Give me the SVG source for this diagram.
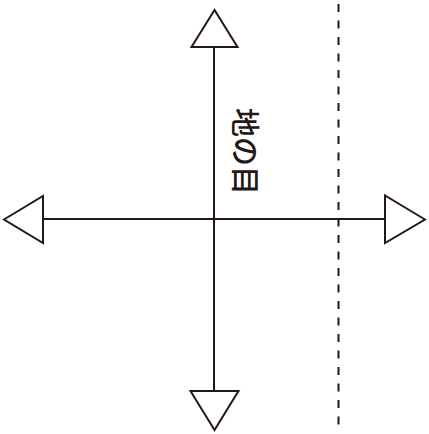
<svg xmlns="http://www.w3.org/2000/svg" width="429" height="434" viewBox="0 0 429 434">
<style>
.ln{stroke:#231815;stroke-width:2;fill:none}
.tri{stroke:#231815;stroke-width:2;fill:#fff;stroke-linejoin:miter}
.dash{stroke:#231815;stroke-width:2;stroke-dasharray:8 8.5;fill:none}
.lbl{font-family:"Noto Sans CJK JP","Noto Sans CJK SC",sans-serif;font-size:29px;fill:#231815;font-weight:500}
</style>
<rect width="429" height="434" fill="#fff"/>
<g id="connectors">
<line class="ln" x1="214" y1="47" x2="214" y2="391"/>
<line class="ln" x1="43" y1="219" x2="385" y2="219"/>
<line class="dash" x1="338.5" y1="4" x2="338.5" y2="432"/>
</g>
<g id="arrow-up"><polygon class="tri" points="214.5,10 191.5,47 237.5,47"/></g>
<g id="arrow-down"><polygon class="tri" points="214.5,430 190.5,391 238.5,391"/></g>
<g id="arrow-left"><polygon class="tri" points="4,219.5 43,196 43,243"/></g>
<g id="arrow-right"><polygon class="tri" points="425,219.5 385,195.5 385,243"/></g>
<g id="label"><text class="lbl" transform="translate(246.5,151.5) rotate(90)" text-anchor="middle" dominant-baseline="central">地の目</text></g>
</svg>
